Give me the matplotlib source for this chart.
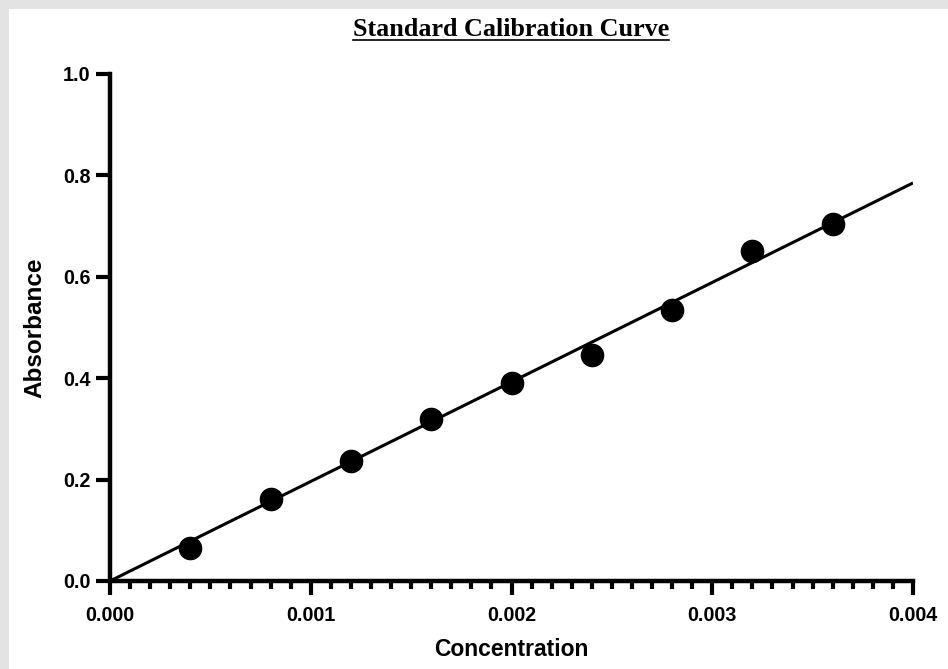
# Standard calibration curve: absorbance vs concentration with a linear fit
import numpy as np
import matplotlib
matplotlib.use("Agg")
import matplotlib.pyplot as plt
from matplotlib.patches import Rectangle
from matplotlib.lines import Line2D
from matplotlib.ticker import MultipleLocator, FormatStrFormatter

# ----------------------------
# Data
# ----------------------------
concentration = [0.0004, 0.0008, 0.0012, 0.0016, 0.0020, 0.0024, 0.0028, 0.0032, 0.0036]
absorbance = [0.065, 0.162, 0.237, 0.320, 0.391, 0.446, 0.535, 0.651, 0.704]
fit_x = [0.0, 0.004]
fit_slope = 196.3  # line through origin


def main():
    fig = plt.figure(figsize=(9.48, 6.69), dpi=100)
    fig.patch.set_facecolor("#e3e3e3")
    # white page with a thin grey border at the top and left
    fig.patches.append(Rectangle((9 / 948, 0), 1, 1 - 9 / 669, transform=fig.transFigure,
                                 facecolor="white", edgecolor="none", zorder=-10))

    ax = fig.add_axes([110 / 948, 88 / 669, 803 / 948, 507 / 669])
    ax.set_facecolor("none")

    fit_y = [fit_slope * x for x in fit_x]
    ax.plot(fit_x, fit_y, color="black", lw=2.2, solid_capstyle="butt", zorder=2)
    ax.plot(concentration, absorbance, "o", color="black", ms=16, zorder=3, clip_on=False)

    ax.set_xlim(0, 0.004)
    ax.set_ylim(0, 1.0)

    for side in ("top", "right"):
        ax.spines[side].set_visible(False)
    for side in ("left", "bottom"):
        ax.spines[side].set_linewidth(3.2)
        ax.spines[side].set_capstyle("projecting")

    ax.xaxis.set_major_locator(MultipleLocator(0.001))
    ax.xaxis.set_minor_locator(MultipleLocator(0.0001))
    ax.yaxis.set_major_locator(MultipleLocator(0.2))
    ax.xaxis.set_major_formatter(FormatStrFormatter("%.3f"))
    ax.yaxis.set_major_formatter(FormatStrFormatter("%.1f"))

    ax.tick_params(axis="both", which="major", length=10, width=3, direction="out")
    ax.tick_params(axis="x", which="major", pad=8)
    ax.tick_params(axis="y", which="major", pad=4)
    ax.tick_params(axis="x", which="minor", length=5.5, width=3, direction="out")
    for lab in ax.get_xticklabels() + ax.get_yticklabels():
        lab.set_fontfamily("Liberation Sans")
        lab.set_fontweight("bold")
        lab.set_fontsize(14.2)

    ax.set_xlabel("Concentration", fontfamily="Liberation Sans", fontweight="bold",
                  fontsize=16.5, labelpad=9)
    ax.set_ylabel("Absorbance", fontfamily="Liberation Sans", fontweight="bold",
                  fontsize=17.5, labelpad=12)

    # ----------------------------
    # Underlined serif title
    # ----------------------------
    title = fig.text(511 / 948, 1 - 30 / 669, "Standard Calibration Curve",
                     fontfamily="Liberation Serif", fontweight="bold", fontsize=18.8,
                     ha="center", va="center")
    fig.canvas.draw()
    bb = title.get_window_extent().transformed(fig.transFigure.inverted())
    uy = bb.y0 + 0.002
    fig.lines.append(Line2D([bb.x0, bb.x1], [uy, uy], transform=fig.transFigure,
                            color="black", lw=1.2))

    fig.savefig("out.png", dpi=100, facecolor=fig.get_facecolor())
    plt.close(fig)


if __name__ == "__main__":
    main()
